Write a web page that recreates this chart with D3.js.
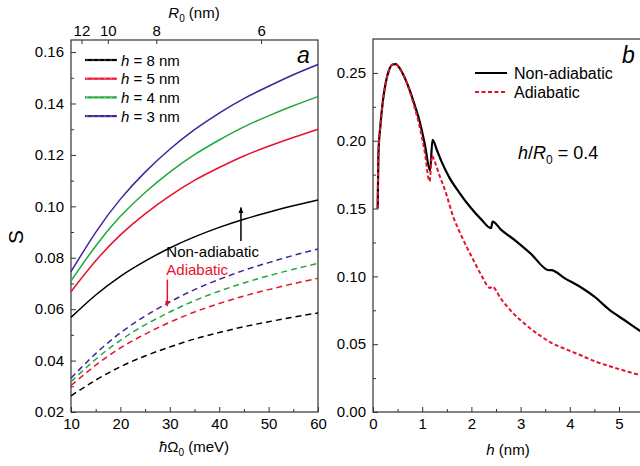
<!DOCTYPE html>
<html>
<head>
<meta charset="utf-8">
<script src="https://cdn.jsdelivr.net/npm/d3@7"></script>
<style>
  body { margin: 0; background: #fff; }
  svg { display: block; font-family: Arial, "Liberation Sans", sans-serif; }
  .tick text { font-size: 15px; fill: #000; }
  .tick line { stroke: #333; }
</style>
</head>
<body>
<svg id="chart" width="640" height="466"></svg>
<script>
// ---- panel a: S vs hbar*Omega0 ----
const energy = [10, 15, 20, 25, 30, 35, 40, 45, 50, 55, 60];
const nonAdH8 = [0.0568, 0.0655, 0.0728, 0.0787, 0.0838, 0.0881, 0.0918, 0.0950, 0.0977, 0.1002, 0.1025];
const nonAdH5 = [0.0668, 0.0788, 0.0889, 0.0971, 0.1041, 0.1101, 0.1151, 0.1196, 0.1234, 0.1268, 0.1300];
const nonAdH4 = [0.0710, 0.0846, 0.0961, 0.1054, 0.1133, 0.1201, 0.1258, 0.1309, 0.1352, 0.1391, 0.1427];
const nonAdH3 = [0.0746, 0.0899, 0.1028, 0.1133, 0.1222, 0.1298, 0.1363, 0.1419, 0.1467, 0.1512, 0.1552];
const adH8 = [0.0263, 0.0324, 0.0376, 0.0418, 0.0453, 0.0484, 0.0509, 0.0532, 0.0551, 0.0569, 0.0585];
const adH5 = [0.0303, 0.0382, 0.0449, 0.0503, 0.0549, 0.0589, 0.0622, 0.0651, 0.0676, 0.0699, 0.0720];
const adH4 = [0.0318, 0.0405, 0.0479, 0.0539, 0.0589, 0.0633, 0.0670, 0.0702, 0.0730, 0.0755, 0.0778];
const adH3 = [0.0332, 0.0427, 0.0508, 0.0573, 0.0628, 0.0676, 0.0716, 0.0751, 0.0781, 0.0809, 0.0834];
const seriesNames = ["8", "5", "4", "3"];
const seriesColors = ["#000000", "#e8112d", "#1fa83c", "#44229e"];

// top axis: R0 in nm, hbar*Omega0 ~ C / R0^2
const r0Ticks = [12, 10, 8, 6];
const r0Const = 1745;

// ---- panel b: S vs h ----
const hNonAd = [0.095, 0.11, 0.15, 0.20, 0.26, 0.33, 0.40, 0.46, 0.55, 0.65, 0.75, 0.85, 0.95, 1.05, 1.16, 1.21, 1.30, 1.40, 1.55, 1.75, 2.00, 2.20, 2.40, 2.43, 2.60, 2.90, 3.20, 3.58, 3.62, 3.90, 4.20, 4.50, 4.80, 5.10, 5.50];
const sNonAd = [0.150, 0.190, 0.211, 0.229, 0.243, 0.2525, 0.2562, 0.2565, 0.253, 0.246, 0.237, 0.226, 0.214, 0.198, 0.178, 0.2006, 0.193, 0.184, 0.173, 0.162, 0.150, 0.142, 0.1355, 0.1404, 0.1345, 0.1262, 0.117, 0.1045, 0.1046, 0.0985, 0.0925, 0.085, 0.0755, 0.068, 0.058];
const hAd = [0.095, 0.11, 0.15, 0.20, 0.26, 0.33, 0.40, 0.46, 0.55, 0.65, 0.75, 0.85, 0.95, 1.05, 1.15, 1.20, 1.25, 1.36, 1.46, 1.63, 1.77, 2.04, 2.20, 2.38, 2.42, 2.60, 2.85, 3.10, 3.39, 3.60, 3.94, 4.21, 4.50, 4.88, 5.20, 5.50];
const sAd = [0.150, 0.190, 0.211, 0.229, 0.243, 0.2525, 0.2562, 0.2565, 0.253, 0.246, 0.236, 0.224, 0.210, 0.192, 0.170, 0.189, 0.185, 0.1735, 0.164, 0.144, 0.132, 0.112, 0.101, 0.0915, 0.0925, 0.0835, 0.0728, 0.0645, 0.0565, 0.0515, 0.046, 0.042, 0.0375, 0.033, 0.0295, 0.0265];

const svg = d3.select("#chart");
const red = "#e8112d";

function inwardAxis(g, axis) {
    g.call(axis);
    g.select(".domain").remove();
}

// ================= panel a =================
const xa = d3.scaleLinear().domain([10, 60]).range([71, 318]);
const ya = d3.scaleLinear().domain([0.02, 0.1647]).range([412, 40]);

const pa = svg.append("g");

pa.append("g").attr("transform", "translate(0,412)")
    .call(g => inwardAxis(g, d3.axisBottom(xa).tickValues(d3.range(10, 61, 10)).tickSize(-5).tickPadding(6).tickFormat(d3.format("d"))));
pa.append("g").attr("transform", "translate(0,412)")
    .call(g => inwardAxis(g, d3.axisBottom(xa).tickValues(d3.range(15, 60, 10)).tickSize(-3).tickFormat("")));
pa.append("g").attr("transform", "translate(71,0)")
    .call(g => inwardAxis(g, d3.axisLeft(ya).tickValues(d3.range(0.02, 0.161, 0.02)).tickSize(-5).tickPadding(7).tickFormat(d3.format(".2f"))));
pa.append("g").attr("transform", "translate(71,0)")
    .call(g => inwardAxis(g, d3.axisLeft(ya).tickValues(d3.range(0.03, 0.16, 0.02)).tickSize(-3).tickFormat("")));
pa.append("g").attr("transform", "translate(0,40)")
    .call(g => inwardAxis(g, d3.axisTop(xa).tickValues(r0Ticks.map(r => r0Const / (r * r))).tickSize(-4).tickPadding(4)
        .tickFormat((d, i) => r0Ticks[i])));

pa.append("rect").attr("x", 71).attr("y", 40).attr("width", 247).attr("height", 372)
    .attr("fill", "none").attr("stroke", "#333").attr("stroke-width", 1.2);

const lineA = d3.line().x(d => xa(d[0])).y(d => ya(d[1])).curve(d3.curveNatural);
const solidA = [nonAdH8, nonAdH5, nonAdH4, nonAdH3];
const dashedA = [adH8, adH5, adH4, adH3];

dashedA.forEach((s, i) => {
    pa.append("path").datum(energy.map((e, j) => [e, s[j]]))
        .attr("d", lineA).attr("fill", "none").attr("stroke", seriesColors[i])
        .attr("stroke-width", 1.5).attr("stroke-dasharray", "6,4");
});
solidA.forEach((s, i) => {
    pa.append("path").datum(energy.map((e, j) => [e, s[j]]))
        .attr("d", lineA).attr("fill", "none").attr("stroke", seriesColors[i])
        .attr("stroke-width", 1.5);
});

// legend
const leg = pa.append("g");
seriesNames.forEach((n, i) => {
    const ly = 60 + i * 18.7;
    leg.append("line").attr("x1", 85).attr("x2", 117).attr("y1", ly).attr("y2", ly)
        .attr("stroke", seriesColors[i]).attr("stroke-width", 2.2);
    leg.append("line").attr("x1", 86).attr("x2", 117).attr("y1", ly).attr("y2", ly)
        .attr("stroke", "#fff").attr("stroke-width", 0.6).attr("stroke-dasharray", "2,4").attr("stroke-opacity", 0.6);
    const t = leg.append("text").attr("x", 121).attr("y", ly + 5.5).attr("font-size", 15);
    t.append("tspan").attr("font-style", "italic").text("h");
    t.append("tspan").text(` = ${n} nm`);
});

pa.append("text").attr("x", 297).attr("y", 63).attr("font-size", 23).attr("font-style", "italic").text("a");

// annotations
pa.append("text").attr("x", xa(29.3)).attr("y", ya(0.0802)).attr("font-size", 15).text("Non-adiabatic");
pa.append("text").attr("x", xa(29.3)).attr("y", ya(0.0732)).attr("font-size", 15).attr("fill", red).text("Adiabatic");

svg.append("defs").html(`
  <marker id="ahBlack" viewBox="0 0 10 10" refX="9" refY="5" markerWidth="6" markerHeight="9" orient="auto" markerUnits="userSpaceOnUse">
    <path d="M0,1 L10,5 L0,9 z" fill="#000"/></marker>
  <marker id="ahRed" viewBox="0 0 10 10" refX="9" refY="5" markerWidth="6" markerHeight="9" orient="auto" markerUnits="userSpaceOnUse">
    <path d="M0,1 L10,5 L0,9 z" fill="${red}"/></marker>`);

pa.append("line").attr("x1", xa(44.4)).attr("x2", xa(44.4)).attr("y1", ya(0.0865)).attr("y2", ya(0.0995))
    .attr("stroke", "#000").attr("stroke-width", 1.5).attr("marker-end", "url(#ahBlack)");
pa.append("line").attr("x1", xa(29.5)).attr("x2", xa(29.5)).attr("y1", ya(0.0715)).attr("y2", ya(0.0612))
    .attr("stroke", red).attr("stroke-width", 1.5).attr("marker-end", "url(#ahRed)");

// axis titles
const xtA = pa.append("text").attr("x", 194).attr("y", 452).attr("text-anchor", "middle").attr("font-size", 15);
xtA.append("tspan").attr("font-style", "italic").text("ħ");
xtA.append("tspan").text("Ω");
xtA.append("tspan").attr("font-size", 10).attr("dy", 4).text("0");
xtA.append("tspan").attr("dy", -4).text(" (meV)");

const ttA = pa.append("text").attr("x", 194).attr("y", 18).attr("text-anchor", "middle").attr("font-size", 15);
ttA.append("tspan").attr("font-style", "italic").text("R");
ttA.append("tspan").attr("font-size", 10).attr("dy", 4).text("0");
ttA.append("tspan").attr("dy", -4).text(" (nm)");

pa.append("text").attr("transform", "translate(23,237) rotate(-90)").attr("text-anchor", "middle")
    .attr("font-size", 21).text("S");

// ================= panel b =================
const xb = d3.scaleLinear().domain([0, 5.5]).range([373, 643.6]);
const yb = d3.scaleLinear().domain([0, 0.275]).range([412, 39]);

const pb = svg.append("g");

pb.append("g").attr("transform", "translate(0,412)")
    .call(g => inwardAxis(g, d3.axisBottom(xb).tickValues(d3.range(0, 6, 1)).tickSize(-5).tickPadding(6).tickFormat(d3.format("d"))));
pb.append("g").attr("transform", "translate(0,412)")
    .call(g => inwardAxis(g, d3.axisBottom(xb).tickValues(d3.range(0.5, 5.6, 1)).tickSize(-3).tickFormat("")));
pb.append("g").attr("transform", "translate(373,0)")
    .call(g => inwardAxis(g, d3.axisLeft(yb).tickValues(d3.range(0, 0.26, 0.05)).tickSize(-5).tickPadding(7).tickFormat(d3.format(".2f"))));
pb.append("g").attr("transform", "translate(373,0)")
    .call(g => inwardAxis(g, d3.axisLeft(yb).tickValues(d3.range(0.025, 0.27, 0.05)).tickSize(-3).tickFormat("")));

pb.append("rect").attr("x", 373).attr("y", 39).attr("width", 280).attr("height", 373)
    .attr("fill", "none").attr("stroke", "#333").attr("stroke-width", 1.2);

const lineB = d3.line().x(d => xb(d[0])).y(d => yb(d[1])).curve(d3.curveMonotoneX);

pb.append("path").datum(hNonAd.map((h, i) => [h, sNonAd[i]]))
    .attr("d", lineB).attr("fill", "none").attr("stroke", "#000").attr("stroke-width", 2.2);
pb.append("path").datum(hAd.map((h, i) => [h, sAd[i]]))
    .attr("d", lineB).attr("fill", "none").attr("stroke", red).attr("stroke-width", 2)
    .attr("stroke-dasharray", "4,2.5");

// legend b
pb.append("line").attr("x1", 475).attr("x2", 507).attr("y1", 73).attr("y2", 73)
    .attr("stroke", "#000").attr("stroke-width", 2);
pb.append("text").attr("x", 514).attr("y", 79).attr("font-size", 16).text("Non-adiabatic");
pb.append("line").attr("x1", 475).attr("x2", 507).attr("y1", 92).attr("y2", 92)
    .attr("stroke", red).attr("stroke-width", 2).attr("stroke-dasharray", "4,2.5");
pb.append("text").attr("x", 514).attr("y", 98).attr("font-size", 16).text("Adiabatic");

pb.append("text").attr("x", 622).attr("y", 63).attr("font-size", 23).attr("font-style", "italic").text("b");

const ratio = pb.append("text").attr("x", 518).attr("y", 159).attr("font-size", 18);
ratio.append("tspan").attr("font-style", "italic").text("h");
ratio.append("tspan").text("/");
ratio.append("tspan").attr("font-style", "italic").text("R");
ratio.append("tspan").attr("font-size", 12).attr("dy", 5).text("0");
ratio.append("tspan").attr("dy", -5).text(" = 0.4");

const xtB = pb.append("text").attr("x", 508).attr("y", 455).attr("text-anchor", "middle").attr("font-size", 15);
xtB.append("tspan").attr("font-style", "italic").text("h");
xtB.append("tspan").text(" (nm)");
</script>
</body>
</html>
